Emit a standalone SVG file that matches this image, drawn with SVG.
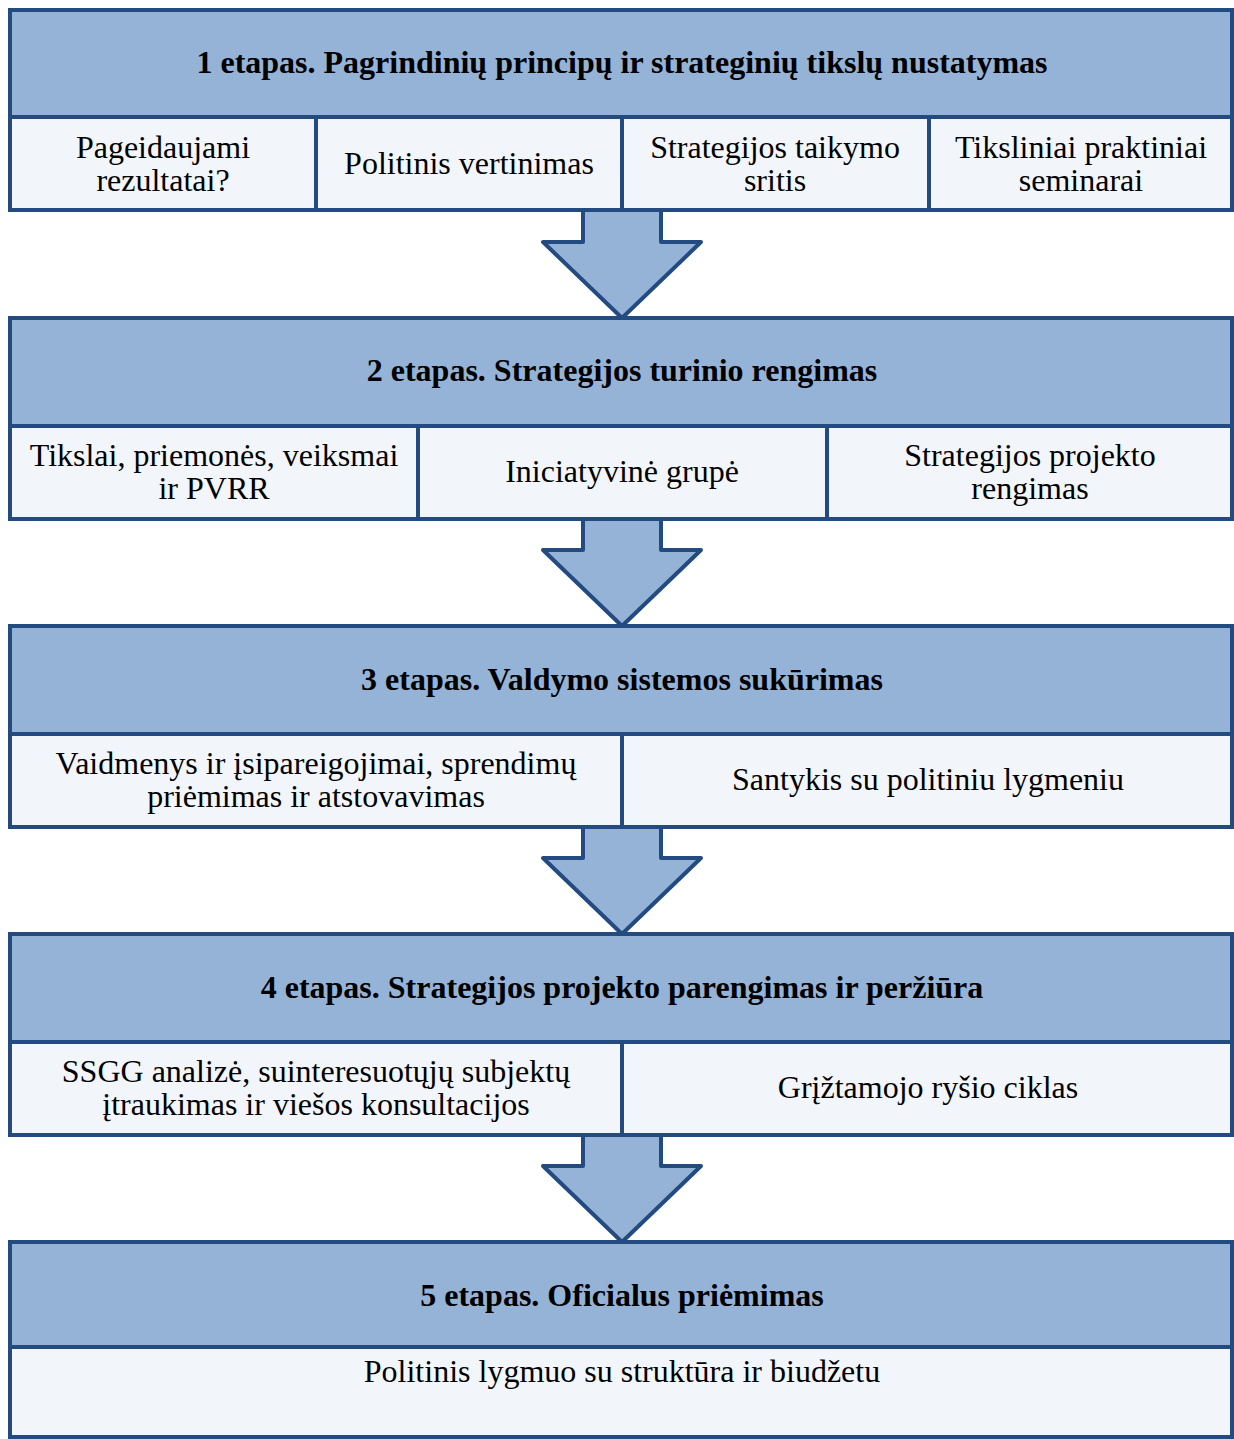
<svg xmlns="http://www.w3.org/2000/svg" width="1234" height="1439" viewBox="0 0 1234 1439">
<style>
.hdr{fill:#95b3d7;stroke:#234b7f;stroke-width:4}
.cell{fill:#f2f5f9;stroke:#234b7f;stroke-width:4}
.arrow{fill:#95b3d7;stroke:#234b7f;stroke-width:4;stroke-linejoin:round}
</style>
<rect width="1234" height="1439" fill="#fff"/>
<g id="connectors">
<polygon class="arrow" points="583,210 661,210 661,242 701,242 622,318 543,242 583,242"/>
<polygon class="arrow" points="583,518 661,518 661,550 701,550 622,626 543,550 583,550"/>
<polygon class="arrow" points="583,826 661,826 661,858 701,858 622,934 543,858 583,858"/>
<polygon class="arrow" points="583,1134 661,1134 661,1166 701,1166 622,1242 543,1166 583,1166"/>
</g>
<g id="stage1">
<rect class="hdr" x="10" y="10" width="1222" height="107"/>
<rect class="cell" x="10" y="117" width="306" height="93"/>
<rect class="cell" x="316" y="117" width="306" height="93"/>
<rect class="cell" x="622" y="117" width="307" height="93"/>
<rect class="cell" x="929" y="117" width="303" height="93"/>
<text x="622" y="73" font-family="Liberation Serif" font-weight="bold" font-size="32" text-anchor="middle">1 etapas. Pagrindinių principų ir strateginių tikslų nustatymas</text>
<g font-family="Liberation Serif" font-size="32" text-anchor="middle">
<text x="163" y="158">Pageidaujami</text>
<text x="163" y="191">rezultatai?</text>
<text x="469" y="174">Politinis vertinimas</text>
<text x="775" y="158">Strategijos taikymo</text>
<text x="775" y="191">sritis</text>
<text x="1081" y="158">Tiksliniai praktiniai</text>
<text x="1081" y="191">seminarai</text>
</g>
</g>
<g id="stage2">
<rect class="hdr" x="10" y="318" width="1222" height="108"/>
<rect class="cell" x="10" y="426" width="408" height="93"/>
<rect class="cell" x="418" y="426" width="409" height="93"/>
<rect class="cell" x="827" y="426" width="405" height="93"/>
<text x="622" y="381" font-family="Liberation Serif" font-weight="bold" font-size="32" text-anchor="middle">2 etapas. Strategijos turinio rengimas</text>
<g font-family="Liberation Serif" font-size="32" text-anchor="middle">
<text x="214" y="466">Tikslai, priemonės, veiksmai</text>
<text x="214" y="499">ir PVRR</text>
<text x="622" y="482">Iniciatyvinė grupė</text>
<text x="1030" y="466">Strategijos projekto</text>
<text x="1030" y="499">rengimas</text>
</g>
</g>
<g id="stage3">
<rect class="hdr" x="10" y="626" width="1222" height="108"/>
<rect class="cell" x="10" y="734" width="612" height="93"/>
<rect class="cell" x="622" y="734" width="610" height="93"/>
<text x="622" y="690" font-family="Liberation Serif" font-weight="bold" font-size="32" text-anchor="middle">3 etapas. Valdymo sistemos sukūrimas</text>
<g font-family="Liberation Serif" font-size="32" text-anchor="middle">
<text x="316" y="774">Vaidmenys ir įsipareigojimai, sprendimų</text>
<text x="316" y="807">priėmimas ir atstovavimas</text>
<text x="928" y="790">Santykis su politiniu lygmeniu</text>
</g>
</g>
<g id="stage4">
<rect class="hdr" x="10" y="934" width="1222" height="108"/>
<rect class="cell" x="10" y="1042" width="612" height="93"/>
<rect class="cell" x="622" y="1042" width="610" height="93"/>
<text x="622" y="998" font-family="Liberation Serif" font-weight="bold" font-size="32" text-anchor="middle">4 etapas. Strategijos projekto parengimas ir peržiūra</text>
<g font-family="Liberation Serif" font-size="32" text-anchor="middle">
<text x="316" y="1082">SSGG analizė, suinteresuotųjų subjektų</text>
<text x="316" y="1115">įtraukimas ir viešos konsultacijos</text>
<text x="928" y="1098">Grįžtamojo ryšio ciklas</text>
</g>
</g>
<g id="stage5">
<rect class="hdr" x="10" y="1242" width="1222" height="105"/>
<rect class="cell" x="10" y="1347" width="1222" height="90"/>
<text x="622" y="1306" font-family="Liberation Serif" font-weight="bold" font-size="32" text-anchor="middle">5 etapas. Oficialus priėmimas</text>
<text x="622" y="1382" font-family="Liberation Serif" font-size="32" text-anchor="middle">Politinis lygmuo su struktūra ir biudžetu</text>
</g>
</svg>
